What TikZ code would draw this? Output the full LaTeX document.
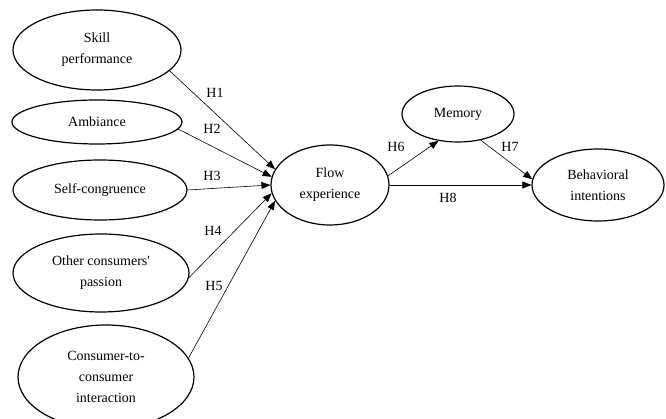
\documentclass[tikz,border=0pt]{standalone}
\usepackage{fontspec}
\setmainfont{Liberation Serif}
\usetikzlibrary{shapes.geometric,arrows.meta}
\begin{document}
\begin{tikzpicture}[x=1pt,y=-1pt,
  construct/.style={draw,line width=1.2pt,ellipse,inner sep=0pt,align=center,font=\fontsize{14}{21}\selectfont},
  link/.style={line width=0.6pt,-{Triangle[length=9pt,width=7pt]}},
  hlabel/.style={font=\fontsize{14}{16}\selectfont,inner sep=0pt}]
\useasboundingbox (0,0) rectangle (666,419);
\node[construct,minimum width=168pt,minimum height=80pt] (skill) at (97,50) {Skill\\performance};
\node[construct,minimum width=170pt,minimum height=44pt] (amb) at (97,122) {Ambiance};
\node[construct,minimum width=174pt,minimum height=60pt] (self) at (100,190) {Self-congruence};
\node[construct,minimum width=176pt,minimum height=78pt] (other) at (101,273) {Other consumers\textquotesingle\\passion};
\node[construct,minimum width=176pt,minimum height=104pt] (c2c) at (106,377) {Consumer-to-\\consumer\\interaction};
\node[construct,minimum width=118pt,minimum height=80pt] (flow) at (330,185) {Flow\\experience};
\node[construct,minimum width=112pt,minimum height=56pt] (mem) at (458,114) {Memory};
\node[construct,minimum width=132pt,minimum height=72pt] (bi) at (598,185) {Behavioral\\intentions};
\draw[link] (skill.-16) -- (flow.164);
\draw[link] (amb.-5) -- (flow.172);
\draw[link] (self.east) -- (flow.west);
\draw[link] (other.-3) -- (flow.188);
\draw[link] (c2c.13) -- (flow.196);
\draw[link] (flow.9) -- (mem.234);
\draw[link] (mem.-49) -- (bi.175);
\draw[link] (flow.east) -- (bi.west);
\node[hlabel] (h1) at (215,93) {H1};
\node[hlabel] (h2) at (212,129) {H2};
\node[hlabel] (h3) at (212,176) {H3};
\node[hlabel] (h4) at (213,231) {H4};
\node[hlabel] (h5) at (214,286) {H5};
\node[hlabel] (h6) at (396,147) {H6};
\node[hlabel] (h7) at (510,147) {H7};
\node[hlabel] (h8) at (448,198) {H8};
\end{tikzpicture}
\end{document}
